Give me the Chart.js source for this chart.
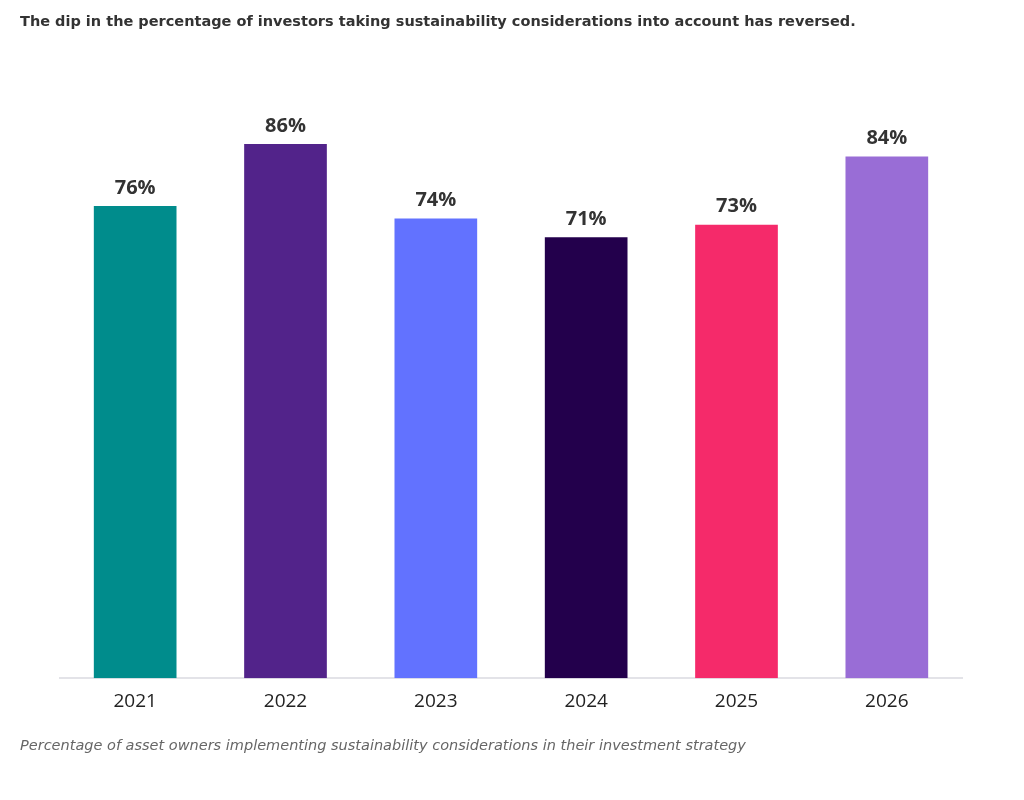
<!DOCTYPE html>
<html>
  <head>
    <script src="https://cdn.jsdelivr.net/npm/chart.js@4/dist/chart.umd.min.js"></script>
    <style>
      body { margin: 0; background: #fff; font-family: 'Open Sans', sans-serif; }
      #wrap { position: relative; width: 1024px; height: 800px; }
      #title { position: absolute; left: 20px; top: 13px; font-family: 'DejaVu Sans', sans-serif; font-size: 14.5px; font-weight: bold; color: #333; white-space: nowrap; }
      #note { position: absolute; left: 20px; top: 737px; font-family: 'DejaVu Sans', sans-serif; font-size: 14.5px; font-style: italic; color: #666; white-space: nowrap; }
      canvas { position: absolute; left: 0; top: 0; }
    </style>
  </head>
  <body>
    <div id="wrap">
      <canvas id="canvas" width="1024" height="800"></canvas>
      <div id="title">The dip in the percentage of investors taking sustainability considerations into account has reversed.</div>
      <div id="note">Percentage of asset owners implementing sustainability considerations in their investment strategy</div>
    </div>
    <script>
      const years = ['2021', '2022', '2023', '2024', '2025', '2026'];
      const shares = [76, 86, 74, 71, 73, 84];
      const colors = ['#008c8c', '#52238a', '#6272ff', '#23004c', '#f52a6a', '#996dd6'];

      const valueLabels = {
        id: 'valueLabels',
        afterDatasetsDraw(chart) {
          const ctx = chart.ctx;
          ctx.save();
          ctx.font = 'bold 20px "Open Sans", sans-serif';
          ctx.fillStyle = '#333';
          ctx.textAlign = 'center';
          ctx.textBaseline = 'bottom';
          chart.getDatasetMeta(0).data.forEach((bar, i) => {
            ctx.fillText(shares[i] + '%', bar.x, bar.y - 8);
          });
          ctx.restore();
        },
      };

      new Chart(document.getElementById('canvas').getContext('2d'), {
        type: 'bar',
        data: {
          labels: years,
          datasets: [{ data: shares, backgroundColor: colors, barPercentage: 0.55, categoryPercentage: 1 }],
        },
        options: {
          responsive: false,
          animation: false,
          layout: { padding: { left: 60, right: 62, top: 57, bottom: 83 } },
          plugins: { legend: { display: false }, tooltip: { enabled: false } },
          scales: {
            y: { display: false, min: 0, max: 100 },
            x: {
              grid: { display: false },
              border: { display: true, color: '#e3e3e8', width: 2 },
              ticks: { color: '#222', font: { size: 19, family: 'Open Sans' }, padding: 4 },
            },
          },
        },
        plugins: [valueLabels],
      });
    </script>
  </body>
</html>
